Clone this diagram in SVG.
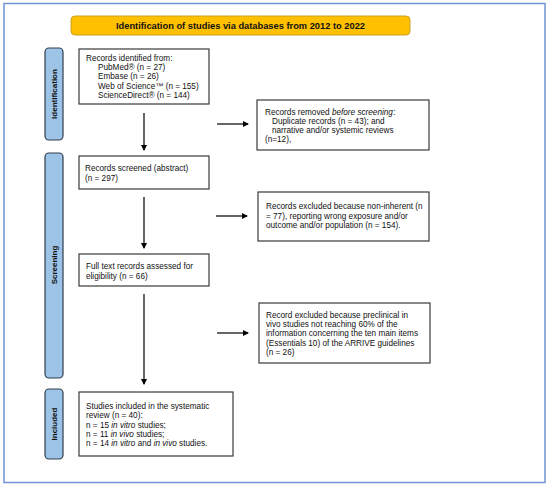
<svg xmlns="http://www.w3.org/2000/svg" width="550" height="487" viewBox="0 0 550 487">
<defs>
<marker id="ah" markerWidth="6" markerHeight="6" refX="5" refY="3" orient="auto" markerUnits="userSpaceOnUse">
<path d="M0,0 L6,3 L0,6 z" fill="#000"/>
</marker>
<style>
.box{fill:#fff;stroke:#3a3a3a;stroke-width:1.2}
.side{fill:#9dc3e6;stroke:#2f3e4e;stroke-width:1.2}
.t{font-family:"Liberation Sans",Arial,sans-serif;font-size:8.2px;fill:#111}
.sl{font-family:"Liberation Sans",Arial,sans-serif;font-size:8px;font-weight:bold;fill:#111}
.c{stroke:#000;stroke-width:1.2;fill:none}
</style>
</defs>
<rect x="4" y="3.5" width="541" height="479" fill="#fff" stroke="#6f93d6" stroke-width="1.5"/>
<g id="title">
<rect x="71" y="16" width="339" height="19" rx="4" fill="#ffc000" stroke="#c9a020" stroke-width="1"/>
<text x="240.5" y="29" text-anchor="middle" font-family="Liberation Sans,Arial,sans-serif" font-size="9.3" font-weight="bold" fill="#111">Identification of studies via databases from 2012 to 2022</text>
</g>
<g id="side-identification">
<rect x="45" y="48" width="18" height="92" rx="4" class="side"/>
<text class="sl" transform="translate(57,94) rotate(-90)" text-anchor="middle">Identification</text>
</g>
<g id="side-screening">
<rect x="45" y="153" width="18" height="225" rx="4" class="side"/>
<text class="sl" transform="translate(57,265) rotate(-90)" text-anchor="middle">Screening</text>
</g>
<g id="side-included">
<rect x="45" y="389" width="18" height="70" rx="4" class="side"/>
<text class="sl" transform="translate(57,424) rotate(-90)" text-anchor="middle">Included</text>
</g>
<g id="identified">
<rect x="79" y="49" width="130" height="55" class="box"/>
<text class="t" x="86" y="61">Records identified from:</text>
<text class="t" x="98" y="70.2">PubMed® (n = 27)</text>
<text class="t" x="98" y="79.4">Embase (n = 26)</text>
<text class="t" x="98" y="88.6">Web of Science™ (n = 155)</text>
<text class="t" x="98" y="97.8">ScienceDirect® (n = 144)</text>
</g>
<g id="removed">
<rect x="257" y="100" width="172" height="50" class="box"/>
<text class="t" x="265" y="114.5">Records removed <tspan font-style="italic">before screening</tspan>:</text>
<text class="t" x="272" y="123.5">Duplicate records (n = 43); and</text>
<text class="t" x="272" y="132.5">narrative and/or systemic reviews</text>
<text class="t" x="265" y="141.5">(n=12),</text>
</g>
<g id="screened">
<rect x="79" y="156" width="130" height="33" class="box"/>
<text class="t" x="85" y="171">Records screened (abstract)</text>
<text class="t" x="85" y="180.5">(n = 297)</text>
</g>
<g id="excluded">
<rect x="258" y="192" width="171" height="49" class="box"/>
<text class="t" x="266" y="209">Records excluded because non-inherent (n</text>
<text class="t" x="266" y="218.5">= 77), reporting wrong exposure and/or</text>
<text class="t" x="266" y="228">outcome and/or population (n = 154).</text>
</g>
<g id="fulltext">
<rect x="79" y="254" width="130" height="32" class="box"/>
<text class="t" x="86" y="269">Full text records assessed for</text>
<text class="t" x="86" y="278.5">eligibility (n = 66)</text>
</g>
<g id="preclinical">
<rect x="259" y="303" width="171" height="60" class="box"/>
<text class="t" x="266" y="318">Record excluded because preclinical in</text>
<text class="t" x="266" y="327.2">vivo studies not reaching 60% of the</text>
<text class="t" x="266" y="336.4">information concerning the ten main items</text>
<text class="t" x="266" y="345.6">(Essentials 10) of the ARRIVE guidelines</text>
<text class="t" x="266" y="354.8">(n = 26)</text>
</g>
<g id="included">
<rect x="79" y="392" width="154" height="64" class="box"/>
<text class="t" x="86" y="409">Studies included in the systematic</text>
<text class="t" x="86" y="418.3">review (n = 40):</text>
<text class="t" x="86" y="427.6">n = 15 <tspan font-style="italic">in vitro</tspan> studies;</text>
<text class="t" x="86" y="436.9">n = 11 <tspan font-style="italic">in vivo</tspan> studies;</text>
<text class="t" x="86" y="446.2">n = 14 <tspan font-style="italic">in vitro</tspan> and <tspan font-style="italic">in vivo</tspan> studies.</text>
</g>
<g id="connectors">
<line class="c" x1="144" y1="113" x2="144" y2="150" marker-end="url(#ah)"/>
<line class="c" x1="144" y1="197" x2="144" y2="248" marker-end="url(#ah)"/>
<line class="c" x1="144" y1="294" x2="144" y2="384" marker-end="url(#ah)"/>
<line class="c" x1="217" y1="124" x2="248" y2="124" marker-end="url(#ah)"/>
<line class="c" x1="216" y1="216" x2="247" y2="216" marker-end="url(#ah)"/>
<line class="c" x1="217" y1="333" x2="248" y2="333" marker-end="url(#ah)"/>
</g>
</svg>
